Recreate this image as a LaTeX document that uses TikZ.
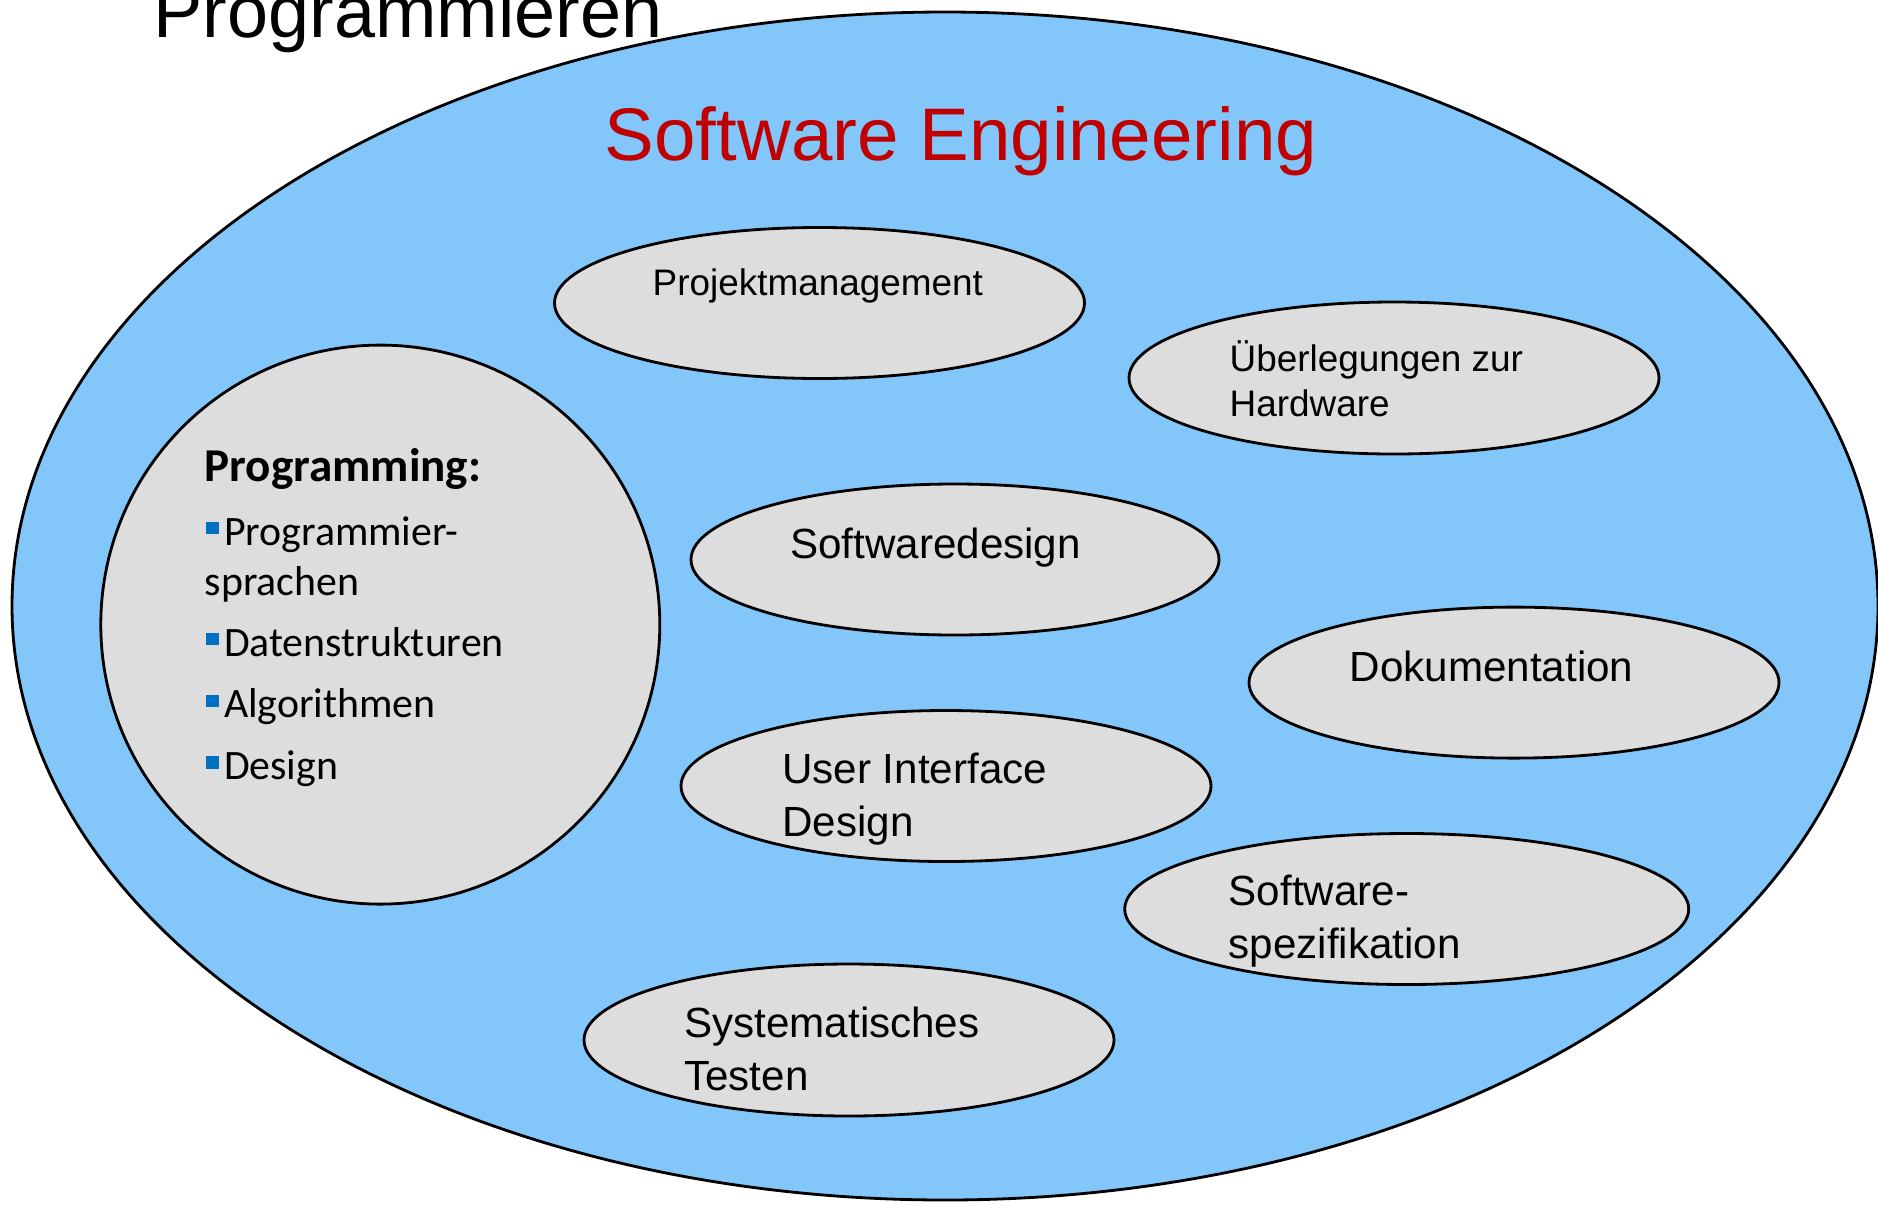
\documentclass[tikz,border=0pt]{standalone}
\usepackage{fontspec}
\setmainfont{Liberation Sans}
\newfontfamily\calibri{Carlito}
\usetikzlibrary{shapes.geometric}

\definecolor{skyfill}{RGB}{130,198,250}
\definecolor{bubblefill}{RGB}{221,221,221}
\definecolor{titlered}{RGB}{192,0,0}
\definecolor{bulletblue}{RGB}{0,112,192}

\tikzset{
  topic/.style={ellipse, draw=black, line width=0.8pt, fill=bubblefill, inner sep=0pt},
  topictext/.style={anchor=base west, align=left, inner sep=0pt, font=\fontsize{12}{15}\selectfont},
  smalltext/.style={anchor=base west, align=left, inner sep=0pt, font=\fontsize{10.5}{12.6}\selectfont},
  bullettext/.style={anchor=base west, inner sep=0pt, font=\calibri\fontsize{11.9}{14.3}\selectfont},
  bulletmark/.style={fill=bulletblue, inner sep=0pt, minimum size=1.25mm, anchor=south west}
}

\begin{document}
\begin{tikzpicture}[x=0.1mm, y=-0.1mm]
				\useasboundingbox (0,0) rectangle (1878,1205);
				% outer field
				\node[ellipse, draw=black, line width=0.8pt, fill=skyfill, minimum width=186.6mm, minimum height=118.8mm] (se) at (945,606) {};
				\node[anchor=base west, inner sep=0pt, font=\fontsize{21}{25}\selectfont] (prog) at (153,37) {Programmieren};
				\node[anchor=base, inner sep=0pt, text=titlered, font=\fontsize{21.2}{25}\selectfont] (setitle) at (961,160) {Software Engineering};
				% topics
				\node[topic, minimum width=53mm, minimum height=15.1mm] (pm) at (819.5,303) {};
				\node[topic, minimum width=53mm, minimum height=15.2mm] (hw) at (1394,378) {};
				\node[topic, minimum width=52.8mm, minimum height=15.1mm] (sd) at (955,559.5) {};
				\node[topic, minimum width=53mm, minimum height=15.1mm] (doc) at (1514,682.6) {};
				\node[topic, minimum width=53mm, minimum height=15.1mm] (ui) at (946,786) {};
				\node[topic, minimum width=56.4mm, minimum height=15.1mm] (spec) at (1406.7,909) {};
				\node[topic, minimum width=53mm, minimum height=15.2mm] (test) at (849,1040) {};
				% texts (two-line texts sit on their last line)
				\node[smalltext] (pmtext) at (652,295.5) {Projektmanagement};
				\node[smalltext] (hwtext) at (1229,416) {Überlegungen zur\\Hardware};
				\node[topictext] (sdtext) at (789.5,558) {Softwaredesign};
				\node[topictext] (doctext) at (1349,681) {Dokumentation};
				\node[topictext] (uitext) at (781.5,836) {User Interface\\Design};
				\node[topictext] (spectext) at (1228,958) {Software-\\spezifikation};
				\node[topictext] (testtext) at (683.5,1090) {Systematisches\\Testen};
				% programming circle
				\node[circle, draw=black, line width=0.8pt, fill=bubblefill, minimum size=55.9mm, inner sep=0pt] (progcircle) at (380.3,624.6) {};
				\node[anchor=base west, inner sep=0pt, font=\calibri\bfseries\fontsize{13.4}{16}\selectfont] (proghead) at (204,481.7) {Programming:};
				\foreach \ypos/\word [count=\i] in {545/Programmier-, 656/Datenstrukturen, 717.7/Algorithmen, 779.3/Design} {
					\node[bulletmark] (mark\i) at (205.5,\ypos-10) {};
					\node[bullettext] (item\i) at (223.3,\ypos) {\word};
				}
				\node[bullettext] (item1b) at (204,595) {sprachen};
			\end{tikzpicture}
\end{document}
